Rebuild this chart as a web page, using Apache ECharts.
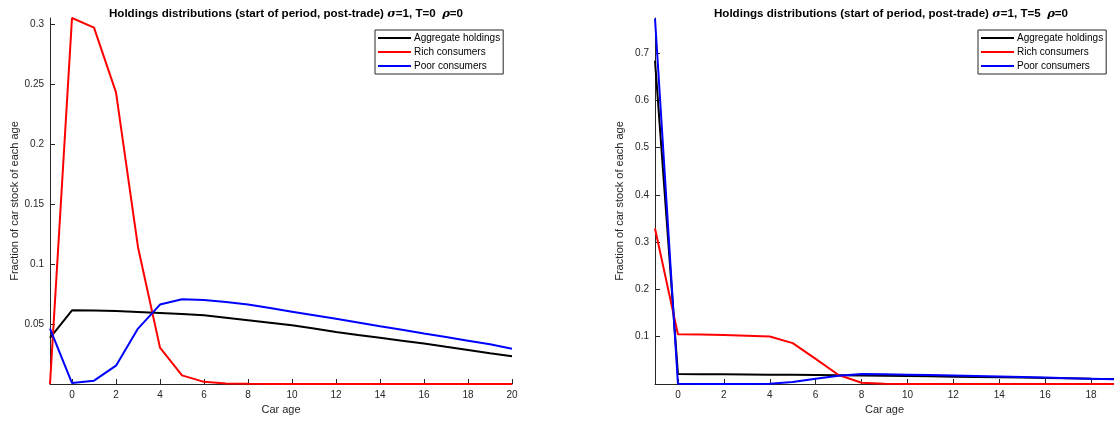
<!DOCTYPE html>
<html>
<head>
<meta charset="utf-8">
<script src="https://cdn.jsdelivr.net/npm/echarts@6/dist/echarts.min.js"></script>
<style>
  html, body { margin: 0; padding: 0; background: #fff; }
  #chart { width: 1114px; height: 421px; }
</style>
</head>
<body>
<div id="chart"></div>
<script>
// ===== Data =====
const agesT0 = [-1, 0, 1, 2, 3, 4, 5, 6, 7, 8, 9, 10, 11, 12, 13, 14, 15, 16, 17, 18, 19, 20];
const aggT0  = [0.0385, 0.0614, 0.0613, 0.0608, 0.0601, 0.0592, 0.0583, 0.0572, 0.0552, 0.0531, 0.0510,
                0.0489, 0.0462, 0.0434, 0.0409, 0.0385, 0.0361, 0.0337, 0.0310, 0.0284, 0.0257, 0.0231];
const richT0 = [0, 0.305, 0.297, 0.243, 0.114, 0.0303, 0.0072, 0.0018, 0.0005, 0.0002, 0.0001,
                0, 0, 0, 0, 0, 0, 0, 0, 0, 0, 0];
const poorT0 = [0.0462, 0.0008, 0.0028, 0.0153, 0.0462, 0.0662, 0.0706, 0.0700, 0.0683, 0.0662, 0.0633,
                0.0603, 0.0573, 0.0543, 0.0513, 0.0482, 0.0452, 0.0421, 0.0391, 0.0361, 0.0331, 0.0293];

const agesT5 = [-1, 0, 1, 2, 3, 4, 5, 6, 7, 8, 9, 10, 11, 12, 13, 14, 15, 16, 17, 18, 19];
const aggT5  = [0.684, 0.0212, 0.0208, 0.0205, 0.0202, 0.0198, 0.0194, 0.0190, 0.0185, 0.0180, 0.0174,
                0.0168, 0.0162, 0.0155, 0.0149, 0.0142, 0.0135, 0.0128, 0.0121, 0.0113, 0.0106];
const richT5 = [0.329, 0.105, 0.1045, 0.1035, 0.102, 0.1005, 0.0865, 0.053, 0.019, 0.0025, 0.0003,
                0, 0, 0, 0, 0, 0, 0, 0, 0, 0];
const poorT5 = [0.773, 0.0004, 0, 0, 0, 0.0005, 0.004, 0.011, 0.0175, 0.0212, 0.0205,
                0.0197, 0.0188, 0.0179, 0.0169, 0.0159, 0.0148, 0.0136, 0.0124, 0.0111, 0.0098];

const xTicksT0 = [0, 2, 4, 6, 8, 10, 12, 14, 16, 18, 20];
const xTicksT5 = [0, 2, 4, 6, 8, 10, 12, 14, 16, 18];
const yTicksT0 = [0.05, 0.1, 0.15, 0.2, 0.25, 0.3];
const yTicksT5 = [0.1, 0.2, 0.3, 0.4, 0.5, 0.6, 0.7];

const seriesNames = ['Aggregate holdings', 'Rich consumers', 'Poor consumers'];
const seriesColors = ['#000000', '#ff0000', '#0000ff'];

// ===== Helpers =====
const FONT = 'Liberation Sans, Arial, sans-serif';
const AXIS_COLOR = '#262626';

function pairs(xs, ys) {
    return xs.map((x, i) => [x, ys[i]]);
}

function makeTitle(left, tVal) {
    return {
        left: left,
        top: 3,
        textAlign: 'center',
        text: '{b|Holdings distributions (start of period, post-trade) }{i|σ}{b|=1, T=' + tVal + '  }{i|ρ}{b|=0}',
        textStyle: {
            rich: {
                b: { fontFamily: FONT, fontSize: 11.6, fontWeight: 'bold', color: '#000' },
                i: { fontFamily: 'DejaVu Serif, serif', fontSize: 11.6, fontStyle: 'italic', fontWeight: 'bold', color: '#000' }
            }
        }
    };
}

function makeXAxis(gridIndex, max, ticks) {
    return {
        type: 'value',
        gridIndex: gridIndex,
        min: -1,
        max: max,
        name: 'Car age',
        nameLocation: 'middle',
        nameGap: 19,
        nameTextStyle: { fontFamily: FONT, fontSize: 11, color: AXIS_COLOR },
        axisLine: { onZero: false, lineStyle: { color: AXIS_COLOR, width: 1 } },
        axisTick: { show: true, inside: true, length: 5, customValues: ticks, lineStyle: { color: AXIS_COLOR } },
        axisLabel: { customValues: ticks, fontFamily: FONT, fontSize: 10, color: AXIS_COLOR, margin: 6 },
        splitLine: { show: false }
    };
}

function makeYAxis(gridIndex, max, ticks) {
    return {
        type: 'value',
        gridIndex: gridIndex,
        min: 0,
        max: max,
        name: 'Fraction of car stock of each age',
        nameLocation: 'middle',
        nameGap: 30,
        nameTextStyle: { fontFamily: FONT, fontSize: 11, color: AXIS_COLOR },
        axisLine: { show: true, onZero: false, lineStyle: { color: AXIS_COLOR, width: 1 } },
        axisTick: { show: true, inside: true, length: 5, customValues: ticks, lineStyle: { color: AXIS_COLOR } },
        axisLabel: { customValues: ticks, fontFamily: FONT, fontSize: 10, color: AXIS_COLOR, margin: 6 },
        splitLine: { show: false }
    };
}

function makeLegend(left) {
    return {
        left: left,
        top: 30,
        orient: 'vertical',
        data: seriesNames,
        icon: 'rect',
        itemWidth: 33,
        itemHeight: 2,
        itemGap: 4,
        padding: [3, 3, 3, 3],
        borderColor: '#262626',
        borderWidth: 1,
        backgroundColor: '#fff',
        textStyle: { fontFamily: FONT, fontSize: 10, color: '#000', padding: [0, 0, 0, -2] }
    };
}

function makeSeries(gridIndex, xs, ysList) {
    return ysList.map((ys, i) => ({
        name: seriesNames[i],
        type: 'line',
        xAxisIndex: gridIndex,
        yAxisIndex: gridIndex,
        data: pairs(xs, ys),
        showSymbol: false,
        symbol: 'none',
        clip: true,
        lineStyle: { color: seriesColors[i], width: 2 },
        itemStyle: { color: seriesColors[i] },
        animation: false
    }));
}

// ===== Chart =====
const chart = echarts.init(document.getElementById('chart'));

const option = {
    backgroundColor: '#fff',
    animation: false,
    title: [makeTitle(281, 0), makeTitle(886, 5)],
    legend: [makeLegend(375), makeLegend(978)],
    grid: [
        { left: 50, top: 18, width: 462, height: 366 },
        { left: 655, top: 18, width: 462, height: 366 }
    ],
    xAxis: [makeXAxis(0, 20, xTicksT0), makeXAxis(1, 19, xTicksT5)],
    yAxis: [makeYAxis(0, 0.305, yTicksT0), makeYAxis(1, 0.774, yTicksT5)],
    series: [
        ...makeSeries(0, agesT0, [aggT0, richT0, poorT0]),
        ...makeSeries(1, agesT5, [aggT5, richT5, poorT5])
    ]
};

chart.setOption(option);
window.addEventListener('resize', () => chart.resize());
</script>
</body>
</html>
